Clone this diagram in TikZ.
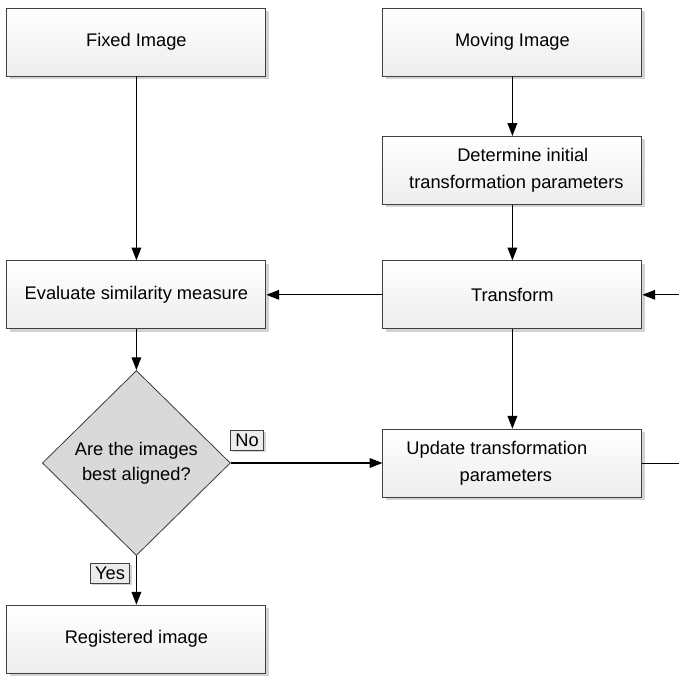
\documentclass[tikz,border=0pt]{standalone}
\usepackage{fontspec}
\setmainfont{Liberation Sans}
\usepackage{tikz}
\usetikzlibrary{positioning, arrows.meta, shapes.geometric, shadows, calc}

\begin{document}
\begin{tikzpicture}[
  sbox/.style={draw=black!75, line width=0.6pt, top color=white, bottom color=gray!14,
               minimum width=6.475cm, minimum height=1.7cm, align=center,
               font=\fontsize{13}{19}\selectfont, inner sep=3pt,
               drop shadow={shadow xshift=2pt, shadow yshift=-2pt, opacity=0.35, fill=gray}},
  decision/.style={diamond, draw=black!75, line width=0.6pt, fill=gray!30,
               minimum width=4.7cm, minimum height=4.625cm, inner sep=0pt, align=center,
               font=\fontsize{13}{17.5}\selectfont},
  tag/.style={draw=black!75, line width=0.5pt, fill=gray!15, inner xsep=3.5pt, inner ysep=2.5pt,
               font=\fontsize{13}{15}\selectfont,
               drop shadow={shadow xshift=1.5pt, shadow yshift=-1.5pt, opacity=0.35, fill=gray}},
  arr/.style={-{Triangle[length=3.2mm, width=2.4mm]}, line width=0.9pt},
  ln/.style={line width=0.9pt},
]
  \useasboundingbox (0, 0) rectangle (16.975, -16.875);

  \node[sbox] (fixed) at (3.41, -1.05) {Fixed Image};
  \node[sbox] (moving) at (12.81, -1.05) {Moving Image};
  \node[sbox] (init) at (12.81, -4.26)
    {\hspace*{0.52cm}Determine initial\\\hspace*{0.2cm}transformation parameters};
  \draw[arr] (moving) -- (init);
  \node[sbox] (eval) at (3.41, -7.37) {Evaluate similarity measure};
  \draw[arr] (fixed) -- (eval);
  \node[sbox] (trans) at (12.81, -7.37) {Transform};
  \draw[arr] (init) -- (trans);
  \draw[arr] (trans) -- (eval);
  \node[decision] (aligned) at (3.41, -11.575) {Are the images\\best aligned?};
  \draw[arr] (eval) -- (aligned);
  \node[sbox] (update) at (12.81, -11.58)
    {Update transformation\hspace*{0.78cm}\\parameters\hspace*{0.33cm}};
  \draw[arr] (trans) -- (update);
  \draw[arr] (aligned.east) -- (aligned.east -| update.west);
  \node[tag] (no) at (6.175, -11.0) {No};
  \node[sbox] (reg) at (3.41, -15.98) {Registered image};
  \draw[arr] (aligned) -- (reg);
  \node[tag] (yes) at (2.75, -14.325) {Yes};
  % loop back to the transform
  \coordinate (ret) at (16.99, -9.5);
  \draw[ln] (update.east) -| (ret);
  \draw[arr] (ret) |- (trans.east);
\end{tikzpicture}
\end{document}
